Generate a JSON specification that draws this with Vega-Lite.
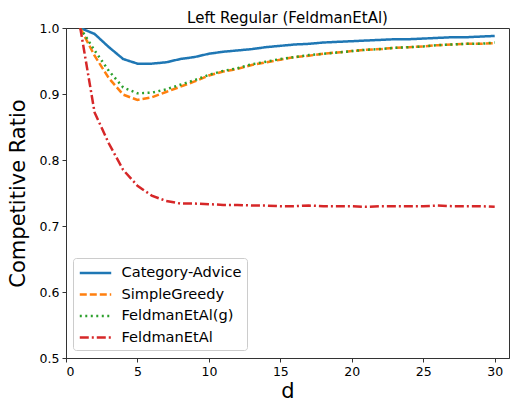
{
  "$schema": "https://vega.github.io/schema/vega-lite/v6.json",
  "width": 443,
  "height": 330,
  "autosize": {"type": "none"},
  "padding": {"left": 66, "top": 28, "right": 2, "bottom": 44},
  "background": "white",
  "config": {
    "font": "DejaVu Sans",
    "view": {"stroke": "#333333", "strokeWidth": 1},
    "axis": {"grid": false, "domainColor": "#333333", "tickColor": "#333333", "labelColor": "black", "titleColor": "black", "labelFont": "DejaVu Sans", "titleFont": "DejaVu Sans", "labelFontSize": 12.5, "titleFontSize": 21, "titleFontWeight": "normal", "tickSize": 4, "labelPadding": 3}
  },
  "title": {"text": "Left Regular (FeldmanEtAl)", "fontSize": 15, "fontWeight": "normal", "font": "DejaVu Sans", "color": "black", "baseline": "alphabetic", "offset": 0, "dy": 16},
  "data": {"values": [
    {"d":1,"s":"Category-Advice","r":1.0},{"d":2,"s":"Category-Advice","r":0.991},{"d":3,"s":"Category-Advice","r":0.971},{"d":4,"s":"Category-Advice","r":0.953},{"d":5,"s":"Category-Advice","r":0.946},{"d":6,"s":"Category-Advice","r":0.946},{"d":7,"s":"Category-Advice","r":0.948},{"d":8,"s":"Category-Advice","r":0.953},{"d":9,"s":"Category-Advice","r":0.956},{"d":10,"s":"Category-Advice","r":0.961},{"d":11,"s":"Category-Advice","r":0.964},{"d":12,"s":"Category-Advice","r":0.966},{"d":13,"s":"Category-Advice","r":0.968},{"d":14,"s":"Category-Advice","r":0.971},{"d":15,"s":"Category-Advice","r":0.973},{"d":16,"s":"Category-Advice","r":0.975},{"d":17,"s":"Category-Advice","r":0.976},{"d":18,"s":"Category-Advice","r":0.978},{"d":19,"s":"Category-Advice","r":0.979},{"d":20,"s":"Category-Advice","r":0.980},{"d":21,"s":"Category-Advice","r":0.981},{"d":22,"s":"Category-Advice","r":0.982},{"d":23,"s":"Category-Advice","r":0.983},{"d":24,"s":"Category-Advice","r":0.983},{"d":25,"s":"Category-Advice","r":0.984},{"d":26,"s":"Category-Advice","r":0.985},{"d":27,"s":"Category-Advice","r":0.986},{"d":28,"s":"Category-Advice","r":0.986},{"d":29,"s":"Category-Advice","r":0.987},{"d":30,"s":"Category-Advice","r":0.988},
    {"d":1,"s":"SimpleGreedy","r":1.0},{"d":2,"s":"SimpleGreedy","r":0.958},{"d":3,"s":"SimpleGreedy","r":0.924},{"d":4,"s":"SimpleGreedy","r":0.899},{"d":5,"s":"SimpleGreedy","r":0.891},{"d":6,"s":"SimpleGreedy","r":0.895},{"d":7,"s":"SimpleGreedy","r":0.903},{"d":8,"s":"SimpleGreedy","r":0.911},{"d":9,"s":"SimpleGreedy","r":0.919},{"d":10,"s":"SimpleGreedy","r":0.928},{"d":11,"s":"SimpleGreedy","r":0.934},{"d":12,"s":"SimpleGreedy","r":0.938},{"d":13,"s":"SimpleGreedy","r":0.944},{"d":14,"s":"SimpleGreedy","r":0.948},{"d":15,"s":"SimpleGreedy","r":0.952},{"d":16,"s":"SimpleGreedy","r":0.956},{"d":17,"s":"SimpleGreedy","r":0.958},{"d":18,"s":"SimpleGreedy","r":0.961},{"d":19,"s":"SimpleGreedy","r":0.963},{"d":20,"s":"SimpleGreedy","r":0.965},{"d":21,"s":"SimpleGreedy","r":0.967},{"d":22,"s":"SimpleGreedy","r":0.968},{"d":23,"s":"SimpleGreedy","r":0.970},{"d":24,"s":"SimpleGreedy","r":0.971},{"d":25,"s":"SimpleGreedy","r":0.972},{"d":26,"s":"SimpleGreedy","r":0.974},{"d":27,"s":"SimpleGreedy","r":0.975},{"d":28,"s":"SimpleGreedy","r":0.976},{"d":29,"s":"SimpleGreedy","r":0.976},{"d":30,"s":"SimpleGreedy","r":0.977},
    {"d":1,"s":"FeldmanEtAl(g)","r":1.0},{"d":2,"s":"FeldmanEtAl(g)","r":0.966},{"d":3,"s":"FeldmanEtAl(g)","r":0.935},{"d":4,"s":"FeldmanEtAl(g)","r":0.910},{"d":5,"s":"FeldmanEtAl(g)","r":0.901},{"d":6,"s":"FeldmanEtAl(g)","r":0.902},{"d":7,"s":"FeldmanEtAl(g)","r":0.907},{"d":8,"s":"FeldmanEtAl(g)","r":0.914},{"d":9,"s":"FeldmanEtAl(g)","r":0.921},{"d":10,"s":"FeldmanEtAl(g)","r":0.929},{"d":11,"s":"FeldmanEtAl(g)","r":0.935},{"d":12,"s":"FeldmanEtAl(g)","r":0.939},{"d":13,"s":"FeldmanEtAl(g)","r":0.945},{"d":14,"s":"FeldmanEtAl(g)","r":0.949},{"d":15,"s":"FeldmanEtAl(g)","r":0.953},{"d":16,"s":"FeldmanEtAl(g)","r":0.956},{"d":17,"s":"FeldmanEtAl(g)","r":0.959},{"d":18,"s":"FeldmanEtAl(g)","r":0.961},{"d":19,"s":"FeldmanEtAl(g)","r":0.963},{"d":20,"s":"FeldmanEtAl(g)","r":0.965},{"d":21,"s":"FeldmanEtAl(g)","r":0.967},{"d":22,"s":"FeldmanEtAl(g)","r":0.968},{"d":23,"s":"FeldmanEtAl(g)","r":0.970},{"d":24,"s":"FeldmanEtAl(g)","r":0.971},{"d":25,"s":"FeldmanEtAl(g)","r":0.972},{"d":26,"s":"FeldmanEtAl(g)","r":0.974},{"d":27,"s":"FeldmanEtAl(g)","r":0.975},{"d":28,"s":"FeldmanEtAl(g)","r":0.976},{"d":29,"s":"FeldmanEtAl(g)","r":0.976},{"d":30,"s":"FeldmanEtAl(g)","r":0.978},
    {"d":1,"s":"FeldmanEtAl","r":1.0},{"d":2,"s":"FeldmanEtAl","r":0.872},{"d":3,"s":"FeldmanEtAl","r":0.825},{"d":4,"s":"FeldmanEtAl","r":0.785},{"d":5,"s":"FeldmanEtAl","r":0.761},{"d":6,"s":"FeldmanEtAl","r":0.746},{"d":7,"s":"FeldmanEtAl","r":0.738},{"d":8,"s":"FeldmanEtAl","r":0.734},{"d":9,"s":"FeldmanEtAl","r":0.734},{"d":10,"s":"FeldmanEtAl","r":0.733},{"d":11,"s":"FeldmanEtAl","r":0.732},{"d":12,"s":"FeldmanEtAl","r":0.732},{"d":13,"s":"FeldmanEtAl","r":0.731},{"d":14,"s":"FeldmanEtAl","r":0.731},{"d":15,"s":"FeldmanEtAl","r":0.730},{"d":16,"s":"FeldmanEtAl","r":0.730},{"d":17,"s":"FeldmanEtAl","r":0.731},{"d":18,"s":"FeldmanEtAl","r":0.730},{"d":19,"s":"FeldmanEtAl","r":0.730},{"d":20,"s":"FeldmanEtAl","r":0.730},{"d":21,"s":"FeldmanEtAl","r":0.729},{"d":22,"s":"FeldmanEtAl","r":0.730},{"d":23,"s":"FeldmanEtAl","r":0.730},{"d":24,"s":"FeldmanEtAl","r":0.730},{"d":25,"s":"FeldmanEtAl","r":0.730},{"d":26,"s":"FeldmanEtAl","r":0.731},{"d":27,"s":"FeldmanEtAl","r":0.730},{"d":28,"s":"FeldmanEtAl","r":0.730},{"d":29,"s":"FeldmanEtAl","r":0.730},{"d":30,"s":"FeldmanEtAl","r":0.729}
  ]},
  "mark": {"type": "line", "strokeWidth": 2.5, "clip": true},
  "encoding": {
    "x": {"field": "d", "type": "quantitative", "title": "d", "scale": {"domain": [0, 31], "nice": false, "zero": false}, "axis": {"values": [0,5,10,15,20,25,30], "titleY": 39, "titleBaseline": "alphabetic"}},
    "y": {"field": "r", "type": "quantitative", "title": "Competitive Ratio", "scale": {"domain": [0.5, 1.0], "nice": false, "zero": false}, "axis": {"values": [0.5,0.6,0.7,0.8,0.9,1.0], "format": ".1f", "titleX": -38}},
    "color": {"field": "s", "type": "nominal", "sort": null, "scale": {"domain": ["Category-Advice","SimpleGreedy","FeldmanEtAl(g)","FeldmanEtAl"], "range": ["#1f77b4","#ff7f0e","#2ca02c","#d62728"]},
      "legend": {"title": null, "orient": "none", "legendX": 7, "legendY": 230, "symbolType": "M-1.85,0L1.85,0", "symbolSize": 289, "symbolOffset": 7.5, "symbolStrokeWidth": 2.5, "labelFontSize": 14.6, "labelFont": "DejaVu Sans", "labelColor": "black", "labelOffset": 16, "rowPadding": 4.5, "fillColor": "white", "strokeColor": "#cccccc", "cornerRadius": 3, "padding": 5}},
    "strokeDash": {"field": "s", "type": "nominal", "sort": null, "scale": {"domain": ["Category-Advice","SimpleGreedy","FeldmanEtAl(g)","FeldmanEtAl"], "range": [[1,0],[7,3],[2,3.5],[9,3,2,3]]}}
  }
}
